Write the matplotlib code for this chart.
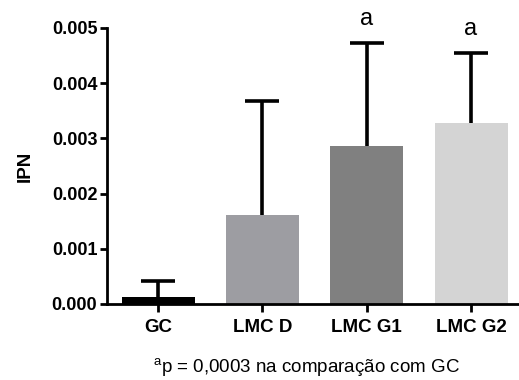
import numpy as np
import matplotlib.pyplot as plt

plt.rcParams['font.family'] = ['Liberation Sans', 'DejaVu Sans']
plt.rcParams['mathtext.fontset'] = 'custom'
plt.rcParams['mathtext.rm'] = 'Liberation Sans'

# data
groups = ['GC', 'LMC D', 'LMC G1', 'LMC G2']
means = [0.00013, 0.00162, 0.00287, 0.00328]
sd = [0.00029, 0.00206, 0.00185, 0.00126]
colors = ['#000000', '#9d9da2', '#808080', '#d4d4d4']
marks = ['', '', 'a', 'a']
yticks = [0.000, 0.001, 0.002, 0.003, 0.004, 0.005]

fig = plt.figure(figsize=(5.19, 3.80), dpi=100)
ax = fig.add_axes([107 / 519, 76 / 380, 411 / 519, 276 / 380])

x = np.arange(len(groups))
tops = np.array(means) + np.array(sd)
ax.bar(x, means, width=0.70, color=colors, zorder=2)
# upper-only error bars with a cap at the top
ax.vlines(x, means, tops, color='black', linewidth=2.6, zorder=3)
ax.plot(x, tops, linestyle='none', marker='_', markersize=25,
        markeredgewidth=2.6, color='black', zorder=3)

for xi, t, lab in zip(x, tops, marks):
    if lab:
        ax.text(xi, t + 0.00033, lab, ha='center', va='baseline', fontsize=17)

ax.set_xlim(-0.49, 3.45)
ax.set_ylim(0, 0.005)
ax.set_yticks(yticks)
ax.set_yticklabels([f'{v:.3f}' for v in yticks], fontweight='bold', fontsize=13)
ax.set_xticks(x)
ax.set_xticklabels(groups, fontweight='bold', fontsize=13.5)
ax.set_ylabel('IPN', fontweight='bold', fontsize=13.5, labelpad=13)

for side in ['top', 'right']:
    ax.spines[side].set_visible(False)
for side in ['left', 'bottom']:
    ax.spines[side].set_linewidth(2)
ax.tick_params(width=2, length=5, pad=2)
ax.tick_params(axis='x', length=6, pad=5)

fig.text(306 / 519, 7 / 380, r'$^{\mathrm{a}}$p = 0,0003 na comparação com GC',
         ha='center', va='baseline', fontsize=13.5)

fig.savefig('out.png', dpi=100)
